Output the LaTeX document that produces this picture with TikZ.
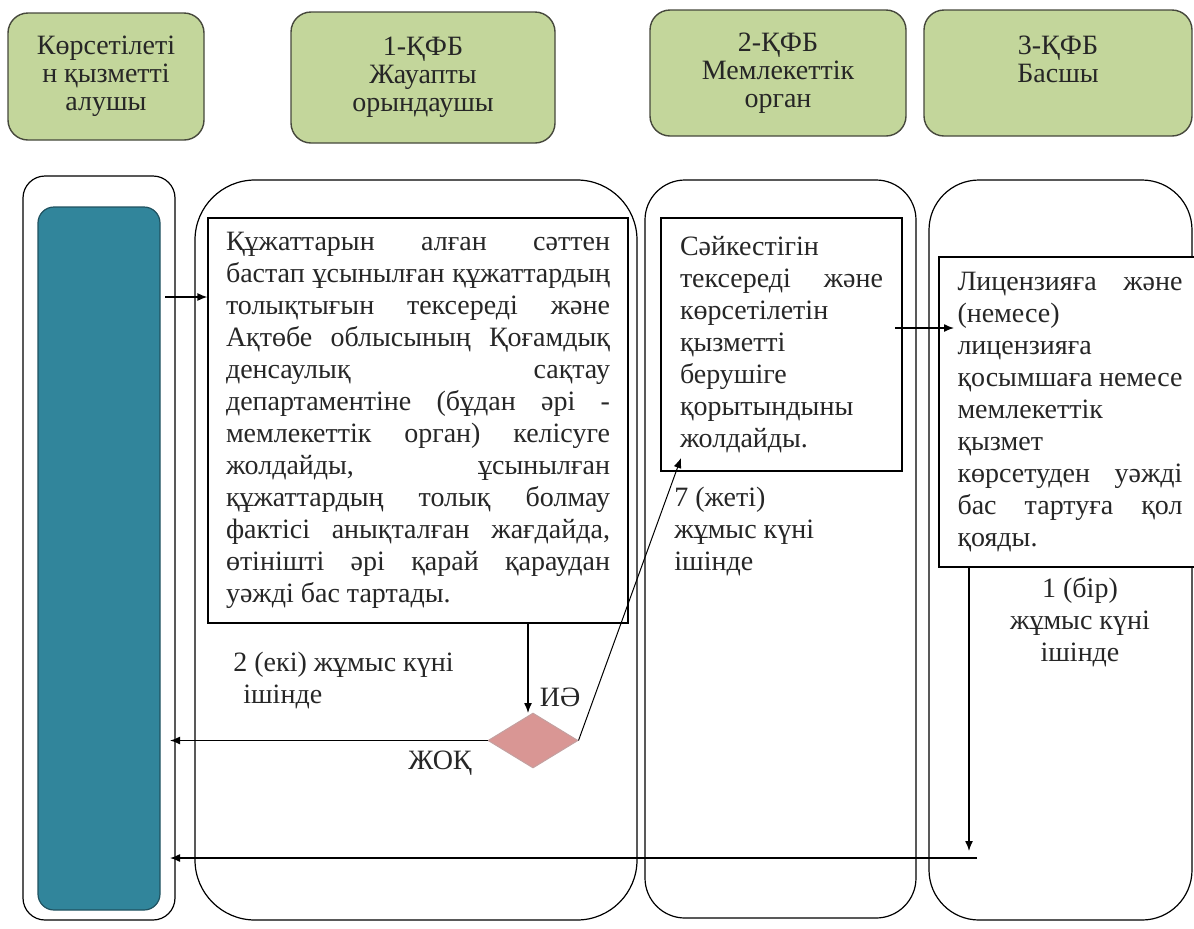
\documentclass[tikz,border=0pt]{standalone}
\usepackage{fontspec}
\setmainfont{Liberation Serif}
\usetikzlibrary{arrows.meta,shapes.geometric,positioning}

\definecolor{hdrfill}{RGB}{195,214,155}
\definecolor{hdrline}{RGB}{70,72,60}
\definecolor{tealfill}{RGB}{49,133,155}
\definecolor{tealline}{RGB}{32,82,96}
\definecolor{decfill}{RGB}{217,150,148}
\definecolor{decline}{RGB}{196,160,160}

\newlength{\wA}\setlength{\wA}{192pt}
\newlength{\wB}\setlength{\wB}{101.5pt}
\newlength{\wC}\setlength{\wC}{112.5pt}
\newcommand{\ja}[1]{\makebox[\wA][s]{#1}}
\newcommand{\jb}[1]{\makebox[\wB][s]{#1}}
\newcommand{\jc}[1]{\makebox[\wC][s]{#1}}

\begin{document}
\begin{tikzpicture}[x=0.5pt, y=-0.5pt,
    every node/.style={font=\fontsize{14}{16}\selectfont, text=black!85},
    head/.style={draw=hdrline, line width=0.7pt, fill=hdrfill, rounded corners=10pt, align=center, inner sep=0pt, font=\fontsize{14}{14}\selectfont},
    lane/.style={draw, line width=0.6pt, rounded corners=#1, inner sep=0pt},
    task/.style={draw, line width=0.6pt, fill=white, align=left, inner sep=0pt},
    dec/.style={diamond, draw=decline, line width=0.5pt, fill=decfill, inner sep=0pt},
    note/.style={inner sep=0pt, align=left, anchor=north west},
    arr/.style={-{Latex[length=5pt,width=4pt]}, line width=0.7pt}]
  \useasboundingbox (0,0) rectangle (1194,928);
  \node[head, minimum width=98pt, minimum height=63.5pt] (h1) at (106,76.5) {Көрсетілеті\\н қызметті\\алушы};
  \node[head, minimum width=132pt, minimum height=65.5pt] (h2) at (423,77.5) {1-ҚФБ\\Жауапты\\орындаушы};
  \node[head, minimum width=128pt, minimum height=63pt] (h3) at (778,73) {2-ҚФБ\\Мемлекеттік\\орган};
  \node[head, minimum width=134pt, minimum height=63pt] (h4) at (1058,73) {3-ҚФБ\\Басшы\\\mbox{}};

  \node[lane=11pt, minimum width=76pt, minimum height=372pt] (lane1) at (99,548) {};
  \node[lane=30pt, minimum width=221pt, minimum height=370pt] (lane2) at (416,550) {};
  \node[lane=20pt, minimum width=135.5pt, minimum height=369pt] (lane3) at (780.5,549) {};
  \node[lane=25pt, minimum width=131.5pt, minimum height=370pt] (lane4) at (1060.5,550) {};

  \node[draw=tealline, fill=tealfill, line width=0.6pt, rounded corners=8pt, minimum width=61pt, minimum height=351.5pt, inner sep=0pt] (recv) at (99,558.5) {};

  \node[task, minimum width=210pt, minimum height=202.5pt] (taskA) at (418,420.5) {\ja{Құжаттарын алған сәттен}\\
    \ja{бастап ұсынылған құжаттардың}\\
    \ja{толықтығын тексереді және}\\
    \ja{Ақтөбе облысының Қоғамдық}\\
    \ja{денсаулық сақтау}\\
    \ja{департаментіне (бұдан әрі -}\\
    \ja{мемлекеттік орган) келісуге}\\
    \ja{жолдайды, ұсынылған}\\
    \ja{құжаттардың толық болмау}\\
    \ja{фактісі анықталған жағдайда,}\\
    \ja{өтінішті әрі қарай қараудан}\\
    уәжді бас тартады.};
  \node[task, minimum width=120.5pt, minimum height=126.5pt] (taskB) at (781.5,344.5) {Сәйкестігін\\
    \jb{тексереді және}\\
    көрсетілетін\\
    қызметті\\
    берушіге\\
    қорытындыны\\
    жолдайды.};
  \node[task, minimum width=131pt, minimum height=155pt] (taskC) at (1070,412) {\jc{Лицензияға және}\\
    (немесе)\\
    лицензияға\\
    \jc{қосымшаға немесе}\\
    мемлекеттік\\
    қызмет\\
    \jc{көрсетуден уәжді}\\
    \jc{бас тартуға қол}\\
    қояды.};

  \node[dec, minimum width=45pt, minimum height=27.5pt] (check) at (533,740.5) {};

  \node[note] (daysA) at (233,652) {2 (екі) жұмыс күні\\\hspace*{5pt}ішінде};
  \node (yes) at (560,697) {ИӘ};
  \node (no) at (440,763) {ЖОҚ};
  \node[note] (daysB) at (674,487) {7 (жеті)\\жұмыс күні\\ішінде};
  \node[note, align=center, anchor=north] (daysC) at (1080,577) {1 (бір)\\жұмыс күні\\ішінде};

  \coordinate (s1) at (165,297);
  \draw[arr] (s1) -- (s1 -| taskA.west);
  \coordinate (s2) at (895,328);
  \coordinate (t2) at (954,328);
  \draw[arr] (s2) -- (t2);
  \coordinate (t5) at (528,713);
  \draw[arr] (t5 |- taskA.south) -- (t5);
  \coordinate (t3) at (681,458);
  \draw[line width=0.5pt, -{Latex[length=5pt,width=4pt]}] (check.east) -- (t3);
  \coordinate (t4) at (170,740.5);
  \draw[arr] (check.west) -- (t4);
  \coordinate (v5) at (969,851);
  \draw[arr] (taskC.south -| v5) -- (v5);
  \coordinate (s6) at (977,858);
  \coordinate (t6) at (170,858);
  \draw[arr] (s6) -- (t6);
\end{tikzpicture}
\end{document}
